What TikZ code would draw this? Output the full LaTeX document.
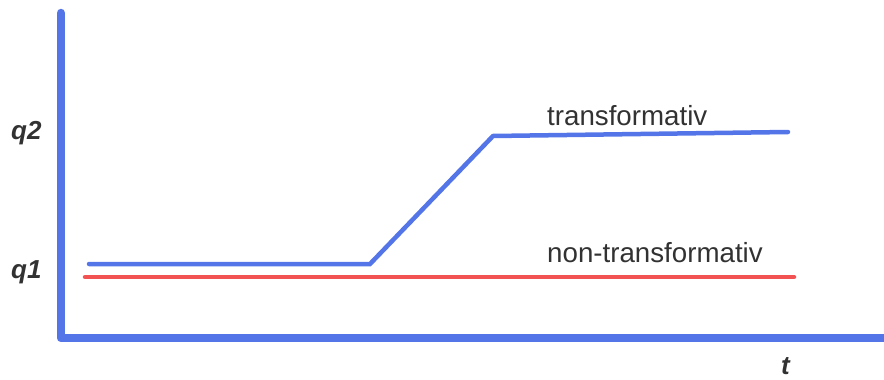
\documentclass[tikz,border=0pt]{standalone}
\usepackage{fontspec}
\setmainfont{Liberation Sans}
\usetikzlibrary{positioning}
\definecolor{axisblue}{RGB}{84,117,232}
\definecolor{linered}{RGB}{242,82,82}
\definecolor{labelgray}{RGB}{50,50,50}
\tikzset{
    axisline/.style={line width=8.5pt, axisblue, line cap=round, line join=round},
    bluecurve/.style={line width=4.5pt, axisblue, line cap=round, line join=miter},
    redcurve/.style={line width=4.5pt, linered, line cap=round},
    axislabel/.style={font=\fontsize{26}{31}\selectfont\bfseries\itshape, text=labelgray, inner sep=0pt},
    curvelabel/.style={font=\fontsize{27.7}{33}\selectfont, text=labelgray, inner sep=0pt}
}

\begin{document}
\begin{tikzpicture}[x=1pt, y=-1pt]
     \useasboundingbox (0,0) rectangle (884,380);

     % axes
     \coordinate (ytop) at (61,13);
     \coordinate (orig) at (61,338);
     \coordinate (xend) at (892,338);
     \draw[axisline] (ytop) -- (orig) -- (xend);

     % transformativ
     \coordinate (b0) at (89,264);
     \coordinate (b1) at (370,264);
     \coordinate (b2) at (493,136);
     \coordinate (b3) at (788,132);
     \draw[bluecurve] (b0) -- (b1) -- (b2) -- (b3);

     % non-transformativ
     \coordinate (r0) at (85,277);
     \coordinate (r1) at (794,277);
     \draw[redcurve] (r0) -- (r1);

     \node[axislabel, anchor=base west] (q2) at (11,139) {q2};
     \node[axislabel, anchor=base west] (q1) at (11,278) {q1};
     \node[axislabel, anchor=base west] (t) at (781,374) {t};
     \node[curvelabel, anchor=base west] (trans) at (547,125) {transformativ};
     \node[curvelabel, anchor=base west] (nontrans) at (547,262) {non-transformativ};
\end{tikzpicture}
\end{document}
